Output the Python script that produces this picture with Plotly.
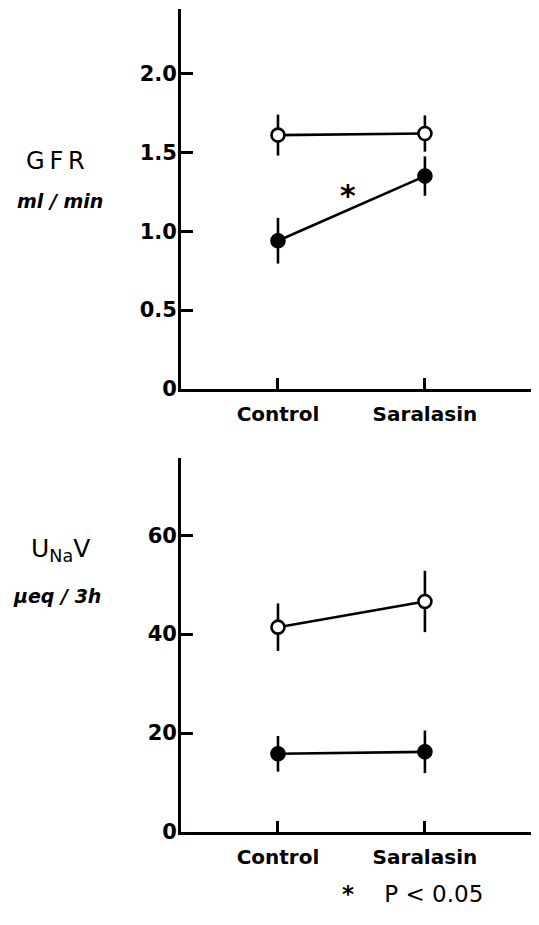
import plotly.graph_objects as go

categories = ["Control", "Saralasin"]

gfr_open = [1.61, 1.62]
gfr_open_se = [0.13, 0.115]
gfr_filled = [0.94, 1.35]
gfr_filled_se = [0.145, 0.125]

una_open = [41.4, 46.6]
una_open_se = [4.8, 6.2]
una_filled = [15.8, 16.2]
una_filled_se = [3.6, 4.3]

gfr_ticks = [0, 0.5, 1.0, 1.5, 2.0]
gfr_ticktext = ["0", "0.5", "1.0", "1.5", "2.0"]
una_ticks = [0, 20, 40, 60]
una_ticktext = ["0", "20", "40", "60"]

# the page body has an 8 px default margin on every side; size the figure so the
# page fits the 539x925 window exactly and offset positions by that margin
OFF = 8
W, H = 539 - 2 * OFF, 925 - 2 * OFF
FONT = "DejaVu Sans"


def px_x(px):
    return min(1.0, max(0.0, (px - OFF) / W))


def px_y(py):
    return min(1.0, max(0.0, 1 - (py - OFF) / H))


fig = go.Figure()


def add_series(y, se, filled, xa, ya):
    fig.add_trace(go.Scatter(
        x=categories, y=y, mode="lines+markers",
        xaxis=xa, yaxis=ya,
        line=dict(color="black", width=2.6),
        marker=dict(size=13, symbol="circle",
                    color="black" if filled else "white",
                    line=dict(color="black", width=2.6)),
        error_y=dict(type="data", array=se, visible=True,
                     color="black", thickness=2.6, width=0),
        showlegend=False, cliponaxis=False,
    ))


add_series(gfr_open, gfr_open_se, False, "x", "y")
add_series(gfr_filled, gfr_filled_se, True, "x", "y")
add_series(una_open, una_open_se, False, "x2", "y2")
add_series(una_filled, una_filled_se, True, "x2", "y2")

xcommon = dict(type="category", range=[-0.66, 1.722], showline=True,
               linecolor="black", linewidth=2.8, ticks="inside", ticklen=11,
               tickwidth=2.6, tickcolor="black", showgrid=False, zeroline=False,
               ticklabelstandoff=5,
               tickfont=dict(family=FONT, size=20, color="black", weight="bold"))
ycommon = dict(showline=True, linecolor="black", linewidth=2.8, ticks="inside",
               ticklen=12, tickwidth=2.6, tickcolor="black", showgrid=False,
               zeroline=False, ticklabelstandoff=-3,
               tickfont=dict(family=FONT, size=21, color="black", weight="bold"))

fig.update_layout(
    width=W, height=H, margin=dict(l=0, r=0, t=0, b=0),
    paper_bgcolor="white", plot_bgcolor="white",
    xaxis=dict(domain=[px_x(181), px_x(531)], anchor="y", **xcommon),
    yaxis=dict(domain=[px_y(394), px_y(9)], anchor="x",
               range=[0, 2.41], tickvals=gfr_ticks, ticktext=gfr_ticktext, **ycommon),
    xaxis2=dict(domain=[px_x(181), px_x(531)], anchor="y2", **xcommon),
    yaxis2=dict(domain=[px_y(843), px_y(464)], anchor="x2",
                range=[0, 75.6], tickvals=una_ticks, ticktext=una_ticktext, **ycommon),
)


def ann(text, px, py, size, italic=False, bold=False):
    fig.add_annotation(text=text, x=px_x(px), y=px_y(py), xref="paper", yref="paper",
                       showarrow=False, xanchor="center", yanchor="middle",
                       font=dict(family=FONT, size=size, color="black",
                                 style="italic" if italic else "normal",
                                 weight="bold" if bold else "normal"))


ann("G\u2009F\u2009R", 55, 163, 24)
ann("ml / min", 60, 204, 19, italic=True, bold=True)
ann("U<sub>Na</sub>V", 60, 557, 25)
ann("\u03bceq / 3h", 57, 604, 19, italic=True, bold=True)
ann("<b>*</b>", 348, 198, 30)
ann("<b>*</b>\u2003 P < 0.05", 412, 906, 23)

fig.write_html("out.html", config={"displayModeBar": False})
